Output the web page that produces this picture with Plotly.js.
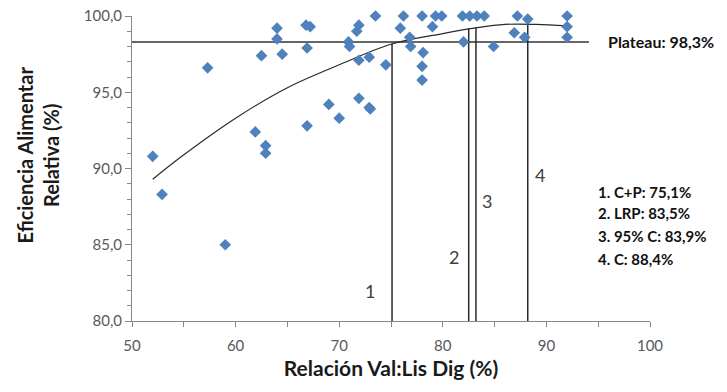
<!DOCTYPE html>
<html>
<head>
<meta charset="utf-8">
<script src="https://cdn.plot.ly/plotly-3.0.1.min.js"></script>
<style>html,body{margin:0;padding:0;background:#fff}#chart{width:727px;height:392px}</style>
</head>
<body>
<div id="chart"></div>
<script>
// Observed data points (Relación Val:Lis Dig %, Eficiencia Alimentar Relativa %)
const pointsX = [52.0, 52.9, 57.3, 59.0, 61.9, 62.9, 62.9, 62.5, 64.0, 64.0, 64.5, 66.8, 67.2, 66.9, 66.9,
  69.0, 70.0, 70.9, 71.0, 71.7, 71.9, 71.9, 71.9, 72.9, 72.9, 73.0, 73.5, 74.5, 75.9, 76.2,
  76.8, 76.9, 78.0, 79.0, 78.1, 78.0, 78.0, 79.3, 79.9, 81.9, 82.6, 83.3, 84.0, 82.0, 84.9,
  87.2, 88.2, 86.9, 87.9, 92.0, 92.0, 92.0];
const pointsY = [90.8, 88.3, 96.6, 85.0, 92.4, 91.5, 91.0, 97.4, 99.2, 98.5, 97.5, 99.4, 99.3, 97.9, 92.8,
  94.2, 93.3, 98.3, 98.0, 99.0, 99.4, 97.1, 94.6, 97.3, 94.0, 93.9, 100.0, 96.8, 99.2, 100.0,
  98.6, 98.0, 100.0, 99.3, 97.6, 96.7, 95.8, 100.0, 100.0, 100.0, 100.0, 100.0, 100.0, 98.3, 98.0,
  100.0, 99.8, 98.9, 98.6, 100.0, 99.3, 98.6];

// Fitted curve
const curveX = [52, 55, 60, 65, 70, 75, 80, 83, 86, 89, 92];
const curveY = [89.3, 90.9, 93.3, 95.3, 96.8, 98.15, 98.85, 99.2, 99.45, 99.45, 99.35];

// Plateau
const plateauX = [50, 94.1];
const plateauY = [98.3, 98.3];
const plateauLabel = 'Plateau: 98,3%';

// Cut-off vertical lines
const cutX = [75.1, 82.5, 83.2, 88.2];
const cutTop = [98.2, 99.2, 99.25, 99.5];
const cutBottom = 80;
const cutNames = ['1', '2', '3', '4'];
const cutLabelX = [73.0, 81.1, 84.3, 89.4];
const cutLabelY = [82.0, 84.2, 87.9, 89.6];

// Legend text block
const legendLines = ['1. C+P: 75,1%', '2. LRP: 83,5%', '3. 95% C: 83,9%', '4. C: 88,4%'];
const legendX = 94.8;
const legendY = [88.47, 87.05, 85.58, 84.09];

const xTitle = 'Relación Val:Lis Dig (%)';
const yTitle = 'Eficiencia Alimentar<br>Relativa (%)';

const FONT = 'Lato, "Open Sans", sans-serif';
const traces = [];

traces.push({x: plateauX, y: plateauY, mode: 'lines', type: 'scatter',
  line: {color: '#333333', width: 1.5}, hoverinfo: 'skip', cliponaxis: false});

traces.push({x: curveX, y: curveY, mode: 'lines', type: 'scatter',
  line: {color: '#2a2a2a', width: 1.2, shape: 'spline', smoothing: 1}, hoverinfo: 'skip'});

cutX.forEach((cx, i) => {
  traces.push({x: [cx, cx], y: [cutBottom, cutTop[i]], mode: 'lines', type: 'scatter',
    line: {color: '#2a2a2a', width: 1.5}, hoverinfo: 'skip'});
});

traces.push({x: pointsX, y: pointsY, mode: 'markers', type: 'scatter', cliponaxis: false,
  marker: {symbol: 'diamond', size: 9, color: '#4F81BD', line: {width: 0}}});

const annotations = [];
cutNames.forEach((n, i) => {
  annotations.push({x: cutLabelX[i], y: cutLabelY[i], xref: 'x', yref: 'y', text: n,
    showarrow: false, font: {family: FONT, size: 18, color: '#404040'}});
});
legendLines.forEach((t, i) => {
  annotations.push({x: legendX, y: legendY[i], xref: 'x', yref: 'y', text: '<b>' + t + '</b>',
    showarrow: false, xanchor: 'left', font: {family: FONT, size: 15, color: '#111111'}});
});
annotations.push({x: 95.8, y: 98.35, xref: 'x', yref: 'y', text: '<b>' + plateauLabel + '</b>',
  showarrow: false, xanchor: 'left', font: {family: FONT, size: 16, color: '#111111'}});
// Y-axis title (placed as rotated annotation to match the reference position)
annotations.push({x: -0.182, y: 0.545, xref: 'paper', yref: 'paper', text: '<b>' + yTitle + '</b>',
  textangle: -90, showarrow: false, xanchor: 'center', yanchor: 'middle',
  font: {family: FONT, size: 20, color: '#1a1a1a'}});

const layout = {
  width: 727, height: 392,
  margin: {l: 132, r: 77, t: 16, b: 71},
  paper_bgcolor: '#ffffff', plot_bgcolor: '#ffffff',
  showlegend: false,
  separators: ',.',
  font: {family: FONT},
  xaxis: {
    range: [50, 100], tick0: 50, dtick: 10, showgrid: false, zeroline: false,
    showline: true, linecolor: '#868686', linewidth: 1,
    ticks: 'outside', ticklen: 5, tickcolor: '#868686', ticklabelstandoff: 6,
    minor: {dtick: 5, ticks: 'outside', ticklen: 5, tickcolor: '#868686', showgrid: false},
    tickfont: {family: FONT, size: 15, color: '#595959'},
    title: {text: '<b>' + xTitle + '</b>', font: {family: FONT, size: 21, color: '#1a1a1a'}, standoff: 8}
  },
  yaxis: {
    range: [80, 100], tick0: 80, dtick: 5, tickformat: '.1f', showgrid: false, zeroline: false,
    showline: true, linecolor: '#868686', linewidth: 1,
    ticks: 'outside', ticklen: 6, tickcolor: '#868686',
    minor: {dtick: 1, ticks: 'outside', ticklen: 4, tickcolor: '#868686', showgrid: false},
    tickfont: {family: FONT, size: 15, color: '#595959'}
  },
  annotations: annotations
};

Plotly.newPlot('chart', traces, layout, {staticPlot: true, displayModeBar: false});
</script>
</body>
</html>
